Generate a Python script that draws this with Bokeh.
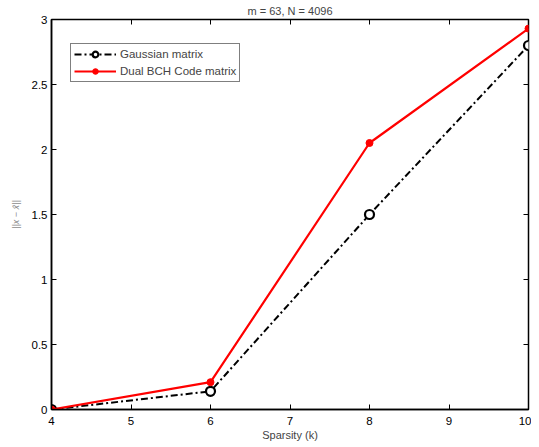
from bokeh.plotting import figure
from bokeh.models import LinearAxis, FixedTicker, Range1d, Legend, LegendItem
from bokeh.embed import file_html
from bokeh.resources import INLINE

sparsity = [4, 6, 8, 10]
gaussian = [0.0, 0.14, 1.5, 2.8]
dual_bch = [0.0, 0.21, 2.05, 2.93]
x_ticks = [4, 5, 6, 7, 8, 9, 10]
y_ticks = [0, 0.5, 1, 1.5, 2, 2.5, 3]

FONT = "Liberation Sans"

p = figure(width=531, height=439, output_backend="svg", toolbar_location=None,
           x_range=Range1d(4, 10), y_range=Range1d(0, 3),
           min_border_left=51, min_border_right=3, min_border_top=19, min_border_bottom=28,
           title="m = 63, N = 4096")
p.frame_width = 477
p.frame_height = 390
p.title.align = "center"
p.title.text_font = FONT
p.title.text_font_size = "11px"
p.title.text_font_style = "normal"
p.title.standoff = 5
p.title.offset = 0
p.grid.visible = False
p.outline_line_color = "black"
p.outline_line_width = 1.5
p.background_fill_color = "white"
p.border_fill_color = "white"

for ax in [p.xaxis[0], p.yaxis[0]]:
    ax.major_tick_in = 5
    ax.major_tick_out = 0
    ax.minor_tick_in = 0
    ax.minor_tick_out = 0
    ax.axis_line_color = "black"
    ax.axis_line_width = 1.5
    ax.major_label_text_font = FONT
    ax.major_label_text_font_size = "11.5px"
    ax.major_label_text_color = "black"
    ax.major_label_standoff = 4
p.xaxis[0].major_label_standoff = 7
p.xaxis[0].ticker = FixedTicker(ticks=x_ticks)
p.yaxis[0].ticker = FixedTicker(ticks=y_ticks)
p.xaxis[0].axis_label = "Sparsity (k)"
p.xaxis[0].axis_label_text_font = FONT
p.xaxis[0].axis_label_text_font_size = "11px"
p.xaxis[0].axis_label_text_font_style = "normal"
p.xaxis[0].axis_label_standoff = 1
p.yaxis[0].axis_label = "||x \u2212 x\u0302||"
p.yaxis[0].axis_label_text_font = FONT
p.yaxis[0].axis_label_text_font_size = "9px"
p.yaxis[0].axis_label_text_font_style = "italic"
p.yaxis[0].axis_label_text_color = "#888888"
p.yaxis[0].axis_label_standoff = 8

top = LinearAxis(ticker=FixedTicker(ticks=x_ticks),
                 major_label_overrides={t: "" for t in x_ticks},
                 major_tick_in=5, major_tick_out=0, minor_tick_in=0, minor_tick_out=0,
                 axis_line_color=None, major_label_standoff=0)
right = LinearAxis(ticker=FixedTicker(ticks=y_ticks),
                   major_label_overrides={t: "" for t in y_ticks},
                   major_tick_in=5, major_tick_out=0, minor_tick_in=0, minor_tick_out=0,
                   axis_line_color=None, major_label_standoff=0)
p.add_layout(top, "above")
p.add_layout(right, "right")

g_line = p.line(sparsity, gaussian, line_color="black", line_width=2, line_dash="7 3 2 3")
g_pts = p.scatter(sparsity, gaussian, marker="circle", size=9, fill_color="white",
                  line_color="black", line_width=2.2)
r_line = p.line(sparsity, dual_bch, line_color="red", line_width=2.2)
r_pts = p.scatter(sparsity, dual_bch, marker="circle", size=7, fill_color="red", line_color="red")

legend = Legend(items=[LegendItem(label="Gaussian matrix", renderers=[g_line, g_pts]),
                       LegendItem(label="Dual BCH Code matrix", renderers=[r_line, r_pts])],
                location=(19, 327))
legend.border_line_color = "black"
legend.border_line_width = 1
legend.label_text_font = FONT
legend.label_text_font_size = "11.5px"
legend.glyph_width = 42
legend.glyph_height = 14
legend.label_height = 14
legend.spacing = 3
legend.padding = 3
legend.margin = 0
legend.label_standoff = 4
p.add_layout(legend)

open("out.html", "w").write(file_html(p, INLINE))
